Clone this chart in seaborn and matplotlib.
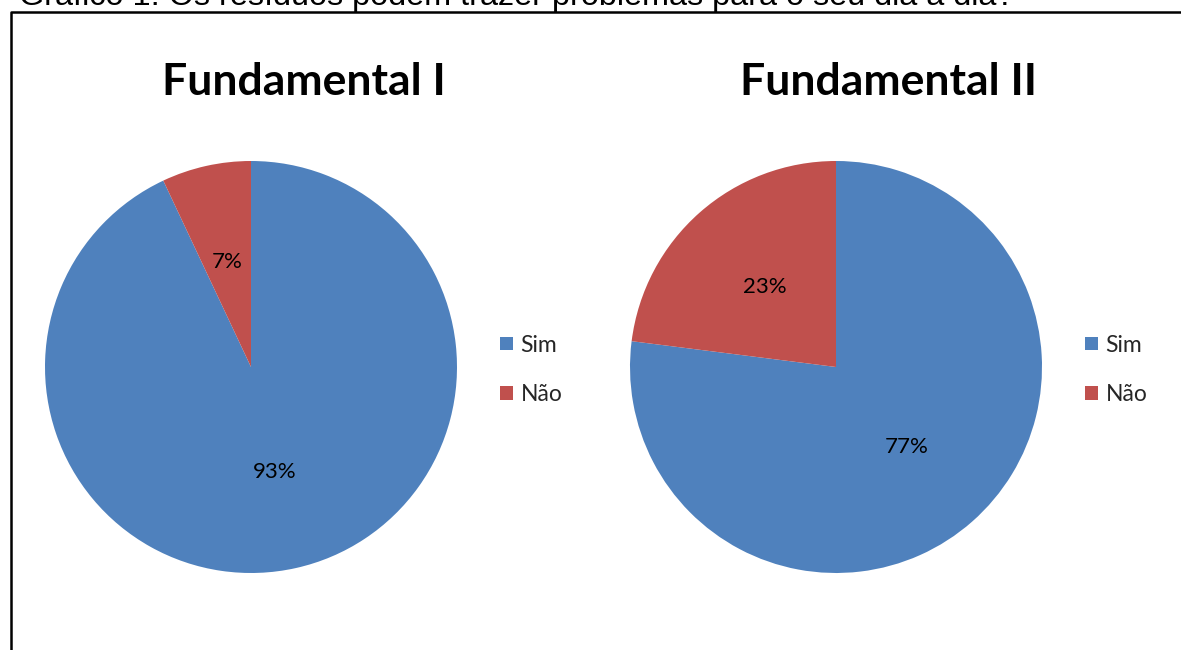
import matplotlib

matplotlib.use("Agg")
import matplotlib.pyplot as plt
from matplotlib.lines import Line2D
from matplotlib.patches import Patch
import seaborn as sns

# data
categories = ["Sim", "Não"]
fund1_values = [93, 7]
fund2_values = [77, 23]
panel_titles = ["Fundamental I", "Fundamental II"]
page_caption = "Gráfico 1: Os resíduos podem trazer problemas para o seu dia a dia?"

COLORS = ["#4F81BD", "#C0504D"]
W, H = 1181, 650

sns.set_theme(style="white")
plt.rcParams["font.family"] = ["Lato", "DejaVu Sans"]

fig = plt.figure(figsize=(W / 100, H / 100), dpi=100)
fig.patch.set_facecolor("white")

# caption above the frame, cut off by the page edge like in the scan
fig.text(19 / W, 1 - 5 / H, page_caption, fontsize=23.3, family="Liberation Sans",
         ha="left", va="baseline", color="black")

# chart frame
fig.add_artist(Line2D([11 / W, 11 / W, 1.0], [0.0, 1 - 12 / H, 1 - 12 / H],
                      transform=fig.transFigure, color="black", linewidth=1.8))


def draw_pie(cx, values, title, title_x, legend_x):
    r = 206
    cy = 367
    ax = fig.add_axes([(cx - r) / W, (H - cy - r) / H, 2 * r / W, 2 * r / H])
    ax.pie(values, colors=COLORS, startangle=90, counterclock=False,
           labels=None, autopct=lambda p: f"{p:.0f}%", pctdistance=0.52,
           textprops={"fontsize": 16, "color": "black"}, radius=1.0,
           wedgeprops={"linewidth": 0, "edgecolor": "none"})
    ax.set_xlim(-1, 1)
    ax.set_ylim(-1, 1)
    ax.set_aspect("equal")
    ax.axis("off")

    fig.text(title_x / W, 1 - 82 / H, title, fontsize=32, fontweight="bold",
             ha="center", va="center", color="black")

    handles = [Patch(facecolor=c, edgecolor="none") for c in COLORS]
    fig.legend(handles, categories, loc="center left",
               bbox_to_anchor=(legend_x / W, 1 - 370 / H),
               bbox_transform=fig.transFigure, frameon=False, fontsize=16.5,
               handlelength=0.55, handleheight=0.55, handletextpad=0.35,
               labelspacing=1.25, borderpad=0, borderaxespad=0)


draw_pie(251, fund1_values, panel_titles[0], 304, 500)
draw_pie(836, fund2_values, panel_titles[1], 889, 1085)

fig.savefig("out.png", dpi=100)
